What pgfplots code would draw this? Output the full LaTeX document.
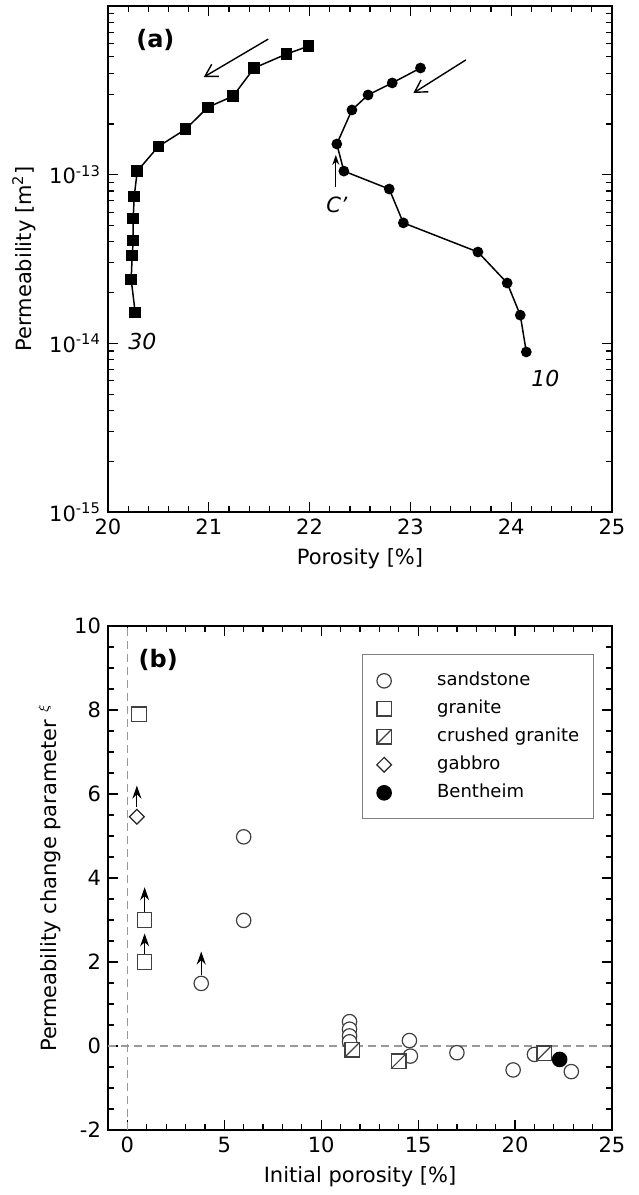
\documentclass[border=0pt]{standalone}
\usepackage{fontspec}
\setmainfont{DejaVu Sans}
\usepackage{pgfplots}
\pgfplotsset{compat=1.18}
\usetikzlibrary{arrows.meta}

\pgfdeclareplotmark{sqdiag}{%
 \pgfpathrectangle{\pgfpoint{-\pgfplotmarksize}{-\pgfplotmarksize}}{\pgfpoint{2\pgfplotmarksize}{2\pgfplotmarksize}}%
 \pgfusepathqfillstroke
 \pgfpathmoveto{\pgfpoint{-\pgfplotmarksize}{-\pgfplotmarksize}}%
 \pgfpathlineto{\pgfpoint{\pgfplotmarksize}{\pgfplotmarksize}}%
 \pgfusepathqstroke}

\pgfplotsset{mystyle/.style={
  width=252pt,height=252pt,scale only axis,
  axis line style={line width=0.75pt},
  tick style={line width=0.6pt,black},
  major tick length=5pt, minor tick length=2.8pt,
  tick align=inside,
  /pgf/number format/assume math mode=true,
  tick label style={font=\fontsize{10.5}{12}\selectfont},
  label style={font=\fontsize{10.5}{12}\selectfont},
  clip=false,
}}

\begin{document}
\begin{tikzpicture}
\path[use as bounding box] (0pt,0pt) rectangle (319pt,597.5pt);

% ---------------- (a)
\begin{axis}[mystyle, at={(54pt,341.5pt)}, anchor=south west, height=253pt,
  xmin=20, xmax=25, ymin=1e-15, ymax=1e-12, ymode=log,
  xtick={20,21,22,23,24,25}, minor x tick num=4,
  ytick={1e-15,1e-14,1e-13,1e-12},
  yticklabels={10\textsuperscript{-15},10\textsuperscript{-14},10\textsuperscript{-13},{}},
  xlabel={Porosity [\%]},
  ylabel={Permeability [m\textsuperscript{2}]},
]
\addplot[black, line width=0.75pt, mark=square*, mark size=2.5pt] coordinates {
 (21.99,5.78e-13) (21.77,5.19e-13) (21.45,4.29e-13) (21.24,2.92e-13)
 (20.99,2.51e-13) (20.77,1.86e-13) (20.50,1.47e-13) (20.29,1.05e-13)
 (20.26,7.43e-14) (20.25,5.50e-14) (20.25,4.07e-14) (20.24,3.31e-14)
 (20.23,2.39e-14) (20.27,1.52e-14)};
\addplot[black, line width=0.75pt, mark=*, mark size=2.3pt] coordinates {
 (23.10,4.29e-13) (22.82,3.50e-13) (22.58,2.97e-13) (22.42,2.42e-13)
 (22.27,1.52e-13) (22.34,1.05e-13) (22.79,8.22e-14) (22.93,5.18e-14)
 (23.67,3.48e-14) (23.96,2.28e-14) (24.09,1.47e-14) (24.15,8.89e-15)};
\draw[line width=0.7pt, -{Straight Barb[length=6pt,width=7pt]}] (axis cs:21.59,6.37e-13) -- (axis cs:20.95,3.79e-13);
\draw[line width=0.7pt, -{Straight Barb[length=6pt,width=7pt]}] (axis cs:23.55,4.79e-13) -- (axis cs:23.03,3.05e-13);
\draw[line width=0.6pt, -{Stealth[length=5pt,width=3.5pt]}] (axis cs:22.26,8.45e-14) -- (axis cs:22.26,1.31e-13);
\node[font=\itshape\fontsize{10.5}{12}\selectfont] at (axis cs:22.27,6.6e-14) {C'};
\node[font=\itshape\fontsize{11}{12}\selectfont] at (axis cs:20.34,1.02e-14) {30};
\node[font=\itshape\fontsize{11}{12}\selectfont] at (axis cs:24.34,6.2e-15) {10};
\node[font=\bfseries\fontsize{12}{14}\selectfont] at (axis cs:20.47,6.3e-13) {(a)};
\end{axis}

% ---------------- (b)
\begin{axis}[mystyle, at={(54pt,32.5pt)}, anchor=south west,
  xmin=-1, xmax=25, ymin=-2, ymax=10,
  xtick={0,5,...,25}, minor x tick num=4,
  ytick={-2,0,...,10}, minor y tick num=3,
  xlabel={Initial porosity [\%]},
  ylabel={Permeability change parameter $^{\xi}$},
  legend style={at={(0.964,0.944)}, anchor=north east, draw=black!50, line width=0.6pt,
    font=\fontsize{9}{11}\selectfont, inner xsep=5pt, inner ysep=6pt, row sep=0pt,
    nodes={text height=7pt, text depth=2pt, inner ysep=2.5pt, inner xsep=2pt}},
  legend cell align=left,
  legend image code/.code={\path[draw=none] (-6pt,0pt) -- (24.5pt,0pt); \draw[#1] plot coordinates {(0pt,0pt)};},
]
\addplot[black!40, dash pattern=on 4pt off 2.5pt, line width=0.7pt, forget plot] coordinates {(0,-2) (0,10)};
\addplot[black!40, dash pattern=on 4pt off 2.5pt, line width=0.7pt, forget plot] coordinates {(-1,0) (25,0)};

\addplot[only marks, mark=*, mark size=3.6pt, mark options={draw=black!75, fill=white, line width=0.6pt}] coordinates {
 (3.81,1.49) (6.0,4.98) (6.0,2.99)
 (11.46,0.58) (11.46,0.40) (11.46,0.24) (11.46,0.10)
 (14.55,0.13) (14.6,-0.24) (17.0,-0.16) (19.9,-0.57) (21.0,-0.2) (22.9,-0.61)};
\addlegendentry{sandstone}
\addplot[only marks, mark=square*, mark size=3.6pt, mark options={draw=black!75, fill=white, line width=0.6pt}] coordinates {
 (0.6,7.9) (0.89,3.0) (0.89,2.0)};
\addlegendentry{granite}
\addplot[only marks, mark=sqdiag, mark size=3.6pt, mark options={draw=black!75, fill=white, line width=0.6pt}] coordinates {
 (11.6,-0.09) (14.0,-0.36) (21.5,-0.17)};
\addlegendentry{crushed granite}
\addplot[only marks, mark=square*, mark size=2.6pt, mark options={rotate=45, draw=black!85, fill=white, line width=0.6pt}] coordinates {
 (0.49,5.46)};
\addlegendentry{gabbro}
\addplot[only marks, mark=*, mark size=3.6pt, mark options={draw=black, fill=black, line width=0.6pt}] coordinates {
 (22.3,-0.32)};
\addlegendentry{Bentheim}

\draw[line width=0.6pt, -{Stealth[length=6.5pt,width=4.5pt]}] (axis cs:0.49,5.7) -- (axis cs:0.49,6.2);
\draw[line width=0.6pt, -{Stealth[length=6.5pt,width=4.5pt]}] (axis cs:0.89,3.2) -- (axis cs:0.89,3.78);
\draw[line width=0.6pt, -{Stealth[length=6.5pt,width=4.5pt]}] (axis cs:0.89,2.2) -- (axis cs:0.89,2.68);
\draw[line width=0.6pt, -{Stealth[length=6.5pt,width=4.5pt]}] (axis cs:3.81,1.68) -- (axis cs:3.81,2.25);
\node[font=\bfseries\fontsize{12}{14}\selectfont, anchor=west] at (axis cs:0.22,9.2) {(b)};
\end{axis}
\end{tikzpicture}
\end{document}
